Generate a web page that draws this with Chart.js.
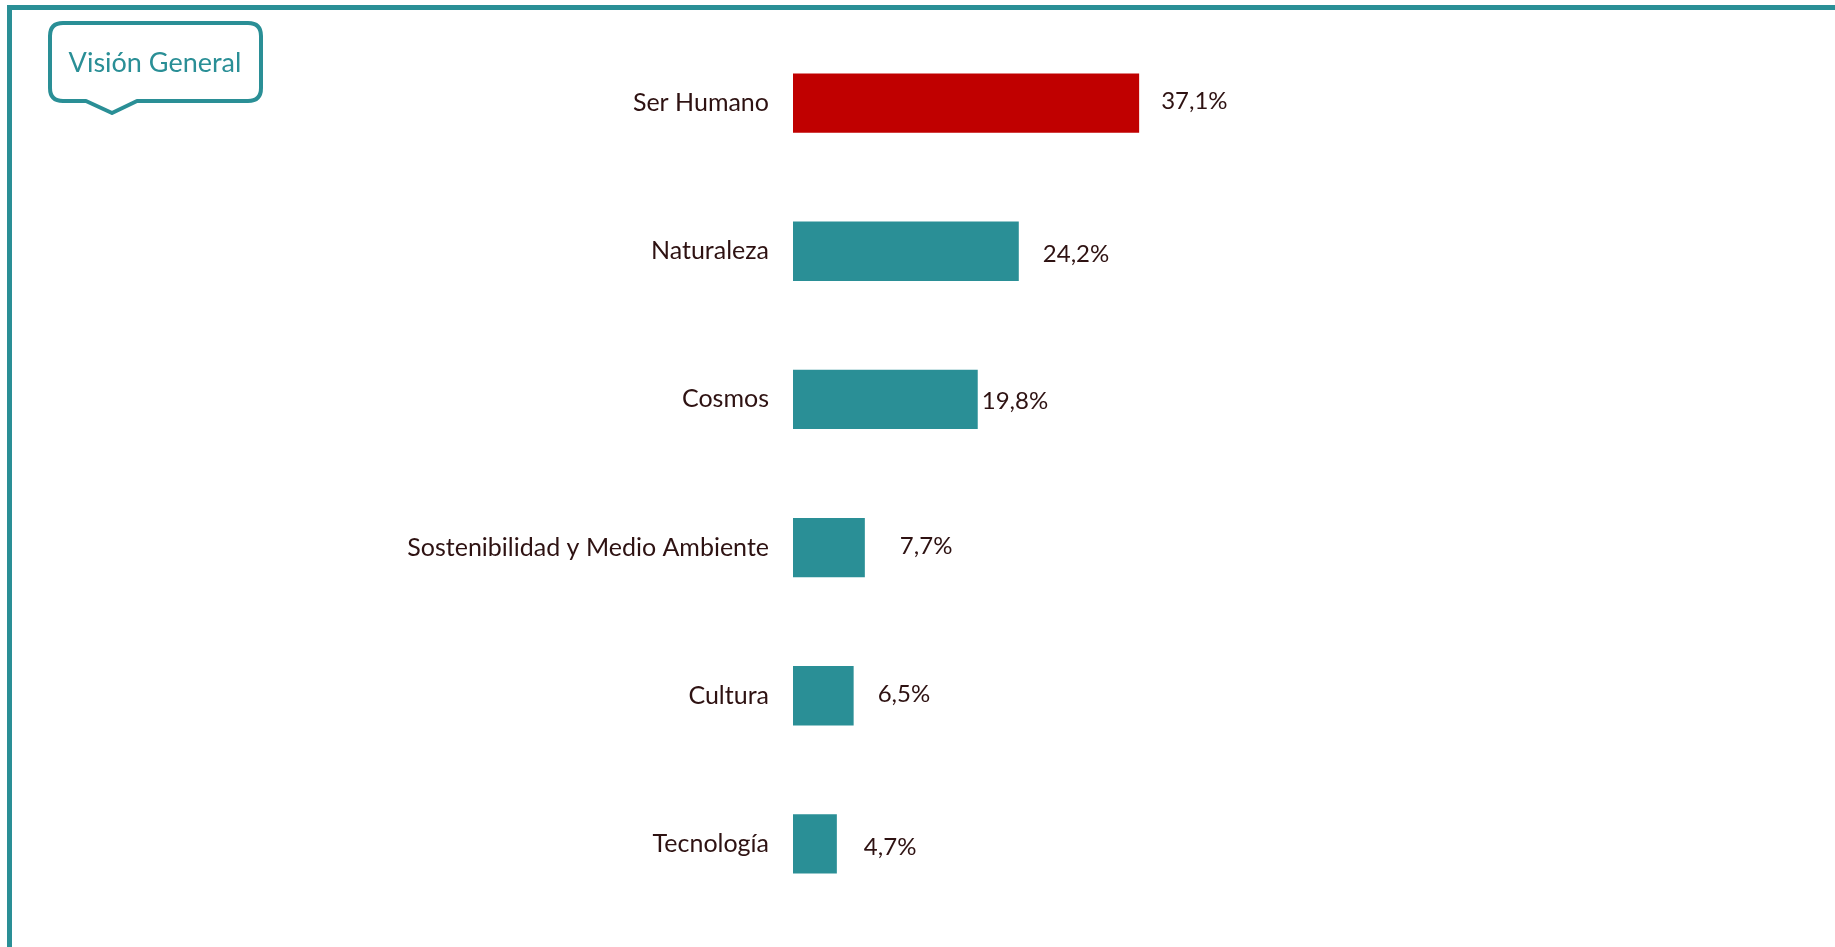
<!DOCTYPE html>
<html>
<head>
<meta charset="utf-8">
<script src="https://cdn.jsdelivr.net/npm/chart.js@4"></script>
<style>
  html, body { margin: 0; padding: 0; background: #fff; }
  #wrap { width: 1835px; height: 947px; position: relative; }
</style>
</head>
<body>
<div id="wrap"><canvas id="myChart"></canvas></div>
<script>
const categories = ['Ser Humano', 'Naturaleza', 'Cosmos', 'Sostenibilidad y Medio Ambiente', 'Cultura', 'Tecnología'];
const shares = [37.1, 24.2, 19.8, 7.7, 6.5, 4.7];
const valueLabels = ['37,1%', '24,2%', '19,8%', '7,7%', '6,5%', '4,7%'];

// label placement tweaks (px): gap after bar end, vertical shift
const labelGap = [22, 24, 4, 35, 24, 27];
const labelShift = [-2, 3, 2, -1, -1, 3];

const TEAL = '#2a8f96';
const RED = '#c00000';
const TEXT = '#2e1212';
const FONT = 'Lato, "Noto Sans", sans-serif';

const barColors = shares.map((v, i) => i === 0 ? RED : TEAL);

// frame lines + "Visión General" bubble
const decorations = {
  id: 'decorations',
  beforeDraw(chart) {
    const c = chart.ctx;
    c.save();
    c.strokeStyle = TEAL;
    c.lineWidth = 5;
    c.beginPath();
    c.moveTo(9.5, 947);
    c.lineTo(9.5, 7.5);
    c.lineTo(1835, 7.5);
    c.stroke();

    // speech bubble
    const l = 50, t = 23, r = 261, b = 101, rad = 13;
    c.lineWidth = 4;
    c.lineJoin = 'round';
    c.beginPath();
    c.moveTo(l + rad, t);
    c.lineTo(r - rad, t);
    c.quadraticCurveTo(r, t, r, t + rad);
    c.lineTo(r, b - rad);
    c.quadraticCurveTo(r, b, r - rad, b);
    c.lineTo(137, b);
    c.lineTo(112, 113);
    c.lineTo(86, b);
    c.lineTo(l + rad, b);
    c.quadraticCurveTo(l, b, l, b - rad);
    c.lineTo(l, t + rad);
    c.quadraticCurveTo(l, t, l + rad, t);
    c.closePath();
    c.stroke();

    c.fillStyle = TEAL;
    c.font = '27px ' + FONT;
    c.textAlign = 'center';
    c.textBaseline = 'middle';
    c.fillText('Visión General', 155, 63);
    c.restore();
  }
};

const valueText = {
  id: 'valueText',
  afterDatasetsDraw(chart) {
    const c = chart.ctx;
    const meta = chart.getDatasetMeta(0);
    c.save();
    c.fillStyle = TEXT;
    c.font = '24px ' + FONT;
    c.textAlign = 'left';
    c.textBaseline = 'middle';
    meta.data.forEach((bar, i) => {
      c.fillText(valueLabels[i], bar.x + labelGap[i], bar.y + labelShift[i]);
    });
    c.restore();
  }
};

const ctx = document.getElementById('myChart').getContext('2d');

new Chart(ctx, {
  type: 'bar',
  data: {
    labels: categories,
    datasets: [{
      data: shares,
      backgroundColor: barColors,
      borderWidth: 0,
      barPercentage: 0.4,
      categoryPercentage: 1
    }]
  },
  options: {
    indexAxis: 'y',
    responsive: true,
    maintainAspectRatio: false,
    animation: false,
    layout: { padding: { top: 29, bottom: 29, right: 109, left: 0 } },
    plugins: {
      legend: { display: false },
      tooltip: { enabled: false }
    },
    scales: {
      x: {
        display: false,
        min: 0,
        max: 100
      },
      y: {
        grid: { display: false, drawTicks: false },
        border: { display: false },
        ticks: {
          color: TEXT,
          font: { family: FONT, size: 25 },
          padding: 24
        },
        afterFit(scale) {
          scale.width = 793;
          scale.paddingTop = 0;
          scale.paddingBottom = 0;
        }
      }
    }
  },
  plugins: [decorations, valueText]
});
</script>
</body>
</html>
